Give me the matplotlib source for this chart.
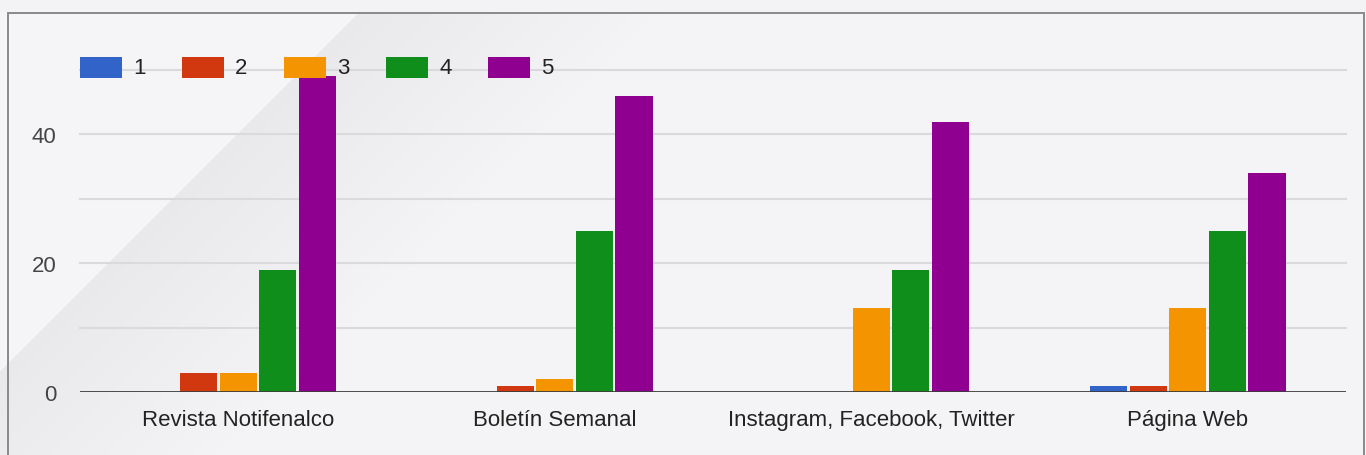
import numpy as np
import matplotlib
matplotlib.use("Agg")
import matplotlib.pyplot as plt
from matplotlib.patches import Rectangle

categories = ["Revista Notifenalco", "Boletín Semanal", "Instagram, Facebook, Twitter", "Página Web"]
series_names = ["1", "2", "3", "4", "5"]
score_1 = [0, 0, 0, 1]
score_2 = [3, 1, 0, 1]
score_3 = [3, 2, 13, 13]
score_4 = [19, 25, 19, 25]
score_5 = [49, 46, 42, 34]
colors = ["#3163c9", "#d2380f", "#f39400", "#108e1c", "#8f0091"]

W, H = 1366, 456
plt.rcParams["font.family"] = ["Liberation Sans", "DejaVu Sans"]
fig = plt.figure(figsize=(W / 100, H / 100), dpi=100)
fig.patch.set_facecolor("#f4f4f6")

# soft diagonal shading in the top-left corner
bg = fig.add_axes([0, 0, 1, 1], zorder=-10)
yy, xx = np.mgrid[0:H, 0:W]
s = (xx + yy - 372) / np.sqrt(2)
shade = np.where(s < 0, 0.962, 0.915 + 0.043 * np.clip(s / 220, 0, 1))
shade = np.where(yy < 13, 0.955, shade)
bg.imshow(np.dstack([shade, shade, shade + 0.008]).clip(0, 1), aspect="auto")
bg.axis("off")

# frame of the card
for xy, w, h in [((7, 13), 1358, 1.5), ((7, 13), 1.5, H), ((1363, 13), 1.5, H)]:
    fig.patches.append(Rectangle((xy[0] / W, 1 - (xy[1] + h) / H), w / W, h / H,
                                 transform=fig.transFigure, color="#8c8c8c", lw=0))

ax = fig.add_axes([80 / W, 63 / H, (1346 - 80) / W, (393 - 71) / H])
ax.set_facecolor("none")

series = [score_1, score_2, score_3, score_4, score_5]
x = np.arange(len(categories))
step = 0.125
for i, (vals, c) in enumerate(zip(series, colors)):
    ax.bar(x + (i - 2) * step, vals, width=0.118, color=c, zorder=3)

ax.set_xlim(-0.5, len(categories) - 0.5)
ax.set_ylim(0, 50)
for v in range(10, 51, 10):
    ax.axhline(v, color="#dadadd", lw=1.5, zorder=1, clip_on=False)
ax.axhline(0, color="#3c3c3c", lw=2.0, zorder=4)

ax.set_yticks([0, 20, 40])
ax.set_xticks(x)
ax.set_xticklabels(categories)
ax.tick_params(axis="y", length=0, pad=17, labelsize=16, labelcolor="#444444")
ax.tick_params(axis="x", length=0, pad=12, labelsize=16, labelcolor="#222222")
for sp in ax.spines.values():
    sp.set_visible(False)

# legend row along the top gridline
for i, (name, c) in enumerate(zip(series_names, colors)):
    x0 = 80 + i * 102
    fig.patches.append(Rectangle((x0 / W, 1 - 79 / H), 42 / W, 21 / H,
                                 transform=fig.transFigure, color=c, lw=0, zorder=5))
    fig.text((x0 + 53) / W, 1 - 69 / H, name, fontsize=16, color="#222222",
             va="center", ha="left")

fig.savefig("out.png", dpi=100, facecolor=fig.get_facecolor())
